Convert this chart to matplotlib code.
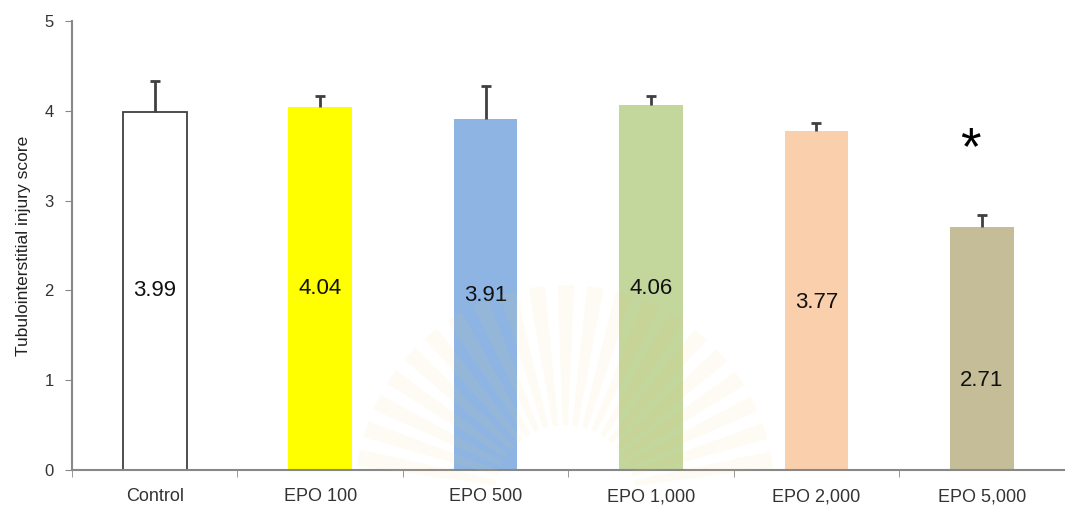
import numpy as np
import matplotlib
matplotlib.use("Agg")
from matplotlib import pyplot as plt
from matplotlib.patches import Wedge

# group names, mean scores and upper SD
groups = ["Control", "EPO 100", "EPO 500", "EPO 1,000", "EPO 2,000", "EPO 5,000"]
scores = [3.99, 4.04, 3.91, 4.06, 3.77, 2.71]
sd_upper = [0.34, 0.12, 0.37, 0.10, 0.09, 0.13]
significant = [False, False, False, False, False, True]

bar_colors = ["white", "#FFFF00", "#8DB4E2", "#C3D69B", "#FAD0AC", "#C4BD97"]
label_y = [2.0, 2.02, 1.94, 2.02, 1.87, 1.0]

plt.rcParams['font.family'] = ['Liberation Sans', 'DejaVu Sans']

W, H = 1065, 512
fig = plt.figure(figsize=(W / 100, H / 100), dpi=100)
ax = fig.add_axes([0.0676, 0.082, 0.932, 0.877])

x = np.arange(len(groups))
for i in range(len(groups)):
    edge = "#404040" if bar_colors[i] == "white" else bar_colors[i]
    ax.bar(x[i], scores[i], width=0.385, color=bar_colors[i], edgecolor=edge,
           linewidth=1.3 if bar_colors[i] == "white" else 0, zorder=2)
eb = ax.errorbar(x, scores, yerr=[np.zeros(len(scores)), sd_upper], fmt="none",
                 ecolor="#404040", elinewidth=2, capsize=3.5, capthick=2, zorder=3)
# only the upper cap is drawn
eb[1][0].set_visible(False)

for i, v in enumerate(scores):
    ax.text(x[i], label_y[i], f"{v:.2f}", ha="center", va="center",
            fontsize=16, color="#111111", zorder=4)
    if significant[i]:
        ax.text(x[i] - 0.07, 3.56, "*", ha="center", va="center",
                fontsize=38, color="black")

ax.set_xlim(-0.5, len(groups) - 0.5)
ax.set_ylim(0, 5)
ax.set_yticks(range(6))
ax.set_xticks(x)
ax.set_xticklabels(groups)
ax.set_xticks(np.arange(-0.5, len(groups), 1), minor=True)
ax.tick_params(axis="x", which="major", length=0, pad=13, labelsize=13, labelcolor="#333333")
ax.tick_params(axis="x", which="minor", length=5, color="#888888")
ax.tick_params(axis="y", length=5, color="#888888", labelsize=12, labelcolor="#333333", pad=8)
ax.set_ylabel("Tubulointerstitial injury score", fontsize=12.5, color="#222222", labelpad=10)

for s in ["top", "right"]:
    ax.spines[s].set_visible(False)
for s in ["left", "bottom"]:
    ax.spines[s].set_color("#888888")
    ax.spines[s].set_linewidth(1.5)

# faint sunburst watermark in pixel coordinates (y runs downward)
wm = fig.add_axes([0, 0, 1, 1], zorder=5)
wm.set_xlim(0, W)
wm.set_ylim(H, 0)
wm.axis("off")
for a in np.arange(188, 352, 8):
    wm.add_patch(Wedge((565, 495), 210, a, a + 4.5, width=140,
                       facecolor="#F2D36B", edgecolor="none", alpha=0.07))

fig.savefig("out.png", dpi=100)
